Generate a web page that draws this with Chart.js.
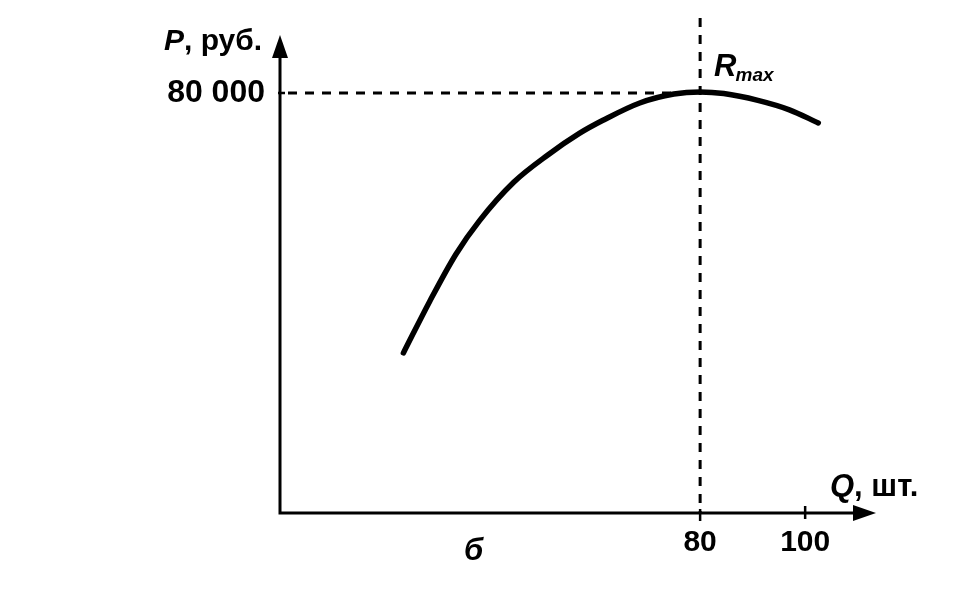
<!DOCTYPE html>
<html>
<head>
<meta charset="utf-8">
<script src="https://cdn.jsdelivr.net/npm/chart.js@4"></script>
<style>
html,body{margin:0;padding:0;background:#fff;}
#wrap{width:965px;height:605px;position:relative;}
</style>
</head>
<body>
<div id="wrap"><canvas id="c" width="965" height="605"></canvas></div>
<script>
// Data
const quantity = [23.5, 28.5, 33.5, 38, 44.5, 51, 57, 61.5, 68.5, 75, 80, 84.5, 91, 97, 102.5];
const revenue  = [30500, 40300, 49300, 55700, 63000, 68200, 72300, 74800, 78100, 79800, 80200, 79900, 78600, 76800, 74300];
const xTickValues = [80, 100];
const xTickLabels = ['80', '100'];
const yTickValues = [80000];
const yTickLabels = ['80 000'];
const qMax = 80;
const rMax = 80000;
const xAxisTitle = ['Q', ', шт.'];
const yAxisTitle = ['P', ', руб.'];
const peakLabel = ['R', 'max'];
const panelLabel = 'б';

const FONT = 'Liberation Sans, Arial, sans-serif';

const decor = {
  id: 'decor',
  afterDraw(chart) {
    const ctx = chart.ctx;
    const xs = chart.scales.x, ys = chart.scales.y;
    const ca = chart.chartArea;
    const x0 = xs.getPixelForValue(0), y0 = ys.getPixelForValue(0);
    ctx.save();
    ctx.strokeStyle = '#000';
    ctx.fillStyle = '#000';
    // dashed guides
    ctx.lineWidth = 3;
    ctx.setLineDash([9, 8]);
    const yR = ys.getPixelForValue(rMax);
    const xQ = xs.getPixelForValue(qMax);
    ctx.beginPath();
    ctx.moveTo(x0 + 8, yR); ctx.lineTo(xQ - 20, yR);
    ctx.stroke();
    ctx.beginPath();
    ctx.moveTo(xQ, ca.top - 17); ctx.lineTo(xQ, y0);
    ctx.stroke();
    ctx.setLineDash([]);
    // axes
    ctx.lineWidth = 3;
    ctx.beginPath();
    ctx.moveTo(x0, ca.top + 10); ctx.lineTo(x0, y0); ctx.lineTo(ca.right - 10, y0);
    ctx.stroke();
    // arrowheads
    ctx.beginPath();
    ctx.moveTo(x0, ca.top); ctx.lineTo(x0 - 8, ca.top + 23); ctx.lineTo(x0 + 8, ca.top + 23); ctx.closePath();
    ctx.fill();
    ctx.beginPath();
    ctx.moveTo(ca.right + 1, y0); ctx.lineTo(ca.right - 22, y0 - 8); ctx.lineTo(ca.right - 22, y0 + 8); ctx.closePath();
    ctx.fill();
    // small tick marks
    ctx.lineWidth = 2.5;
    ctx.beginPath();
    const x100 = xs.getPixelForValue(100);
    ctx.moveTo(x100, y0 - 7); ctx.lineTo(x100, y0 + 6);
    ctx.moveTo(xQ, y0 - 4); ctx.lineTo(xQ, y0 + 8);
    ctx.moveTo(x0 - 2, yR); ctx.lineTo(x0 + 5, yR);
    ctx.stroke();
    // texts
    ctx.textBaseline = 'alphabetic';
    ctx.textAlign = 'left';
    // y title
    ctx.font = 'italic bold 30px ' + FONT;
    ctx.fillText(yAxisTitle[0], 164, 50);
    let w = ctx.measureText(yAxisTitle[0]).width;
    ctx.font = 'bold 30px ' + FONT;
    ctx.fillText(yAxisTitle[1], 164 + w, 50);
    // x title
    ctx.font = 'italic bold 31px ' + FONT;
    ctx.fillText(xAxisTitle[0], 830, 496);
    w = ctx.measureText(xAxisTitle[0]).width;
    ctx.font = 'bold 31px ' + FONT;
    ctx.fillText(xAxisTitle[1], 830 + w, 496);
    // R max
    ctx.font = 'italic bold 31px ' + FONT;
    ctx.fillText(peakLabel[0], xQ + 14, 76);
    w = ctx.measureText(peakLabel[0]).width;
    ctx.font = 'italic bold 19px ' + FONT;
    ctx.fillText(peakLabel[1], xQ + 13 + w, 81);
    // panel label
    ctx.font = 'italic bold 31px ' + FONT;
    ctx.fillText(panelLabel, 464, 560);
    ctx.restore();
  }
};

new Chart(document.getElementById('c'), {
  type: 'line',
  data: {
    datasets: [{
      data: quantity.map((q, i) => ({x: q, y: revenue[i]})),
      borderColor: '#000',
      borderWidth: 5.5,
      borderCapStyle: 'round',
      borderJoinStyle: 'round',
      pointRadius: 0,
      cubicInterpolationMode: 'monotone',
      fill: false
    }]
  },
  options: {
    responsive: false,
    animation: false,
    devicePixelRatio: 1,
    layout: {padding: {top: 35, right: 90, left: 0, bottom: 0}},
    plugins: {legend: {display: false}, tooltip: {enabled: false}},
    scales: {
      x: {
        type: 'linear', min: 0, max: 113.3,
        afterFit(s) { s.height = 92; },
        afterBuildTicks(s) { s.ticks = xTickValues.map(v => ({value: v})); },
        grid: {display: false, drawTicks: false},
        border: {display: false},
        ticks: {
          color: '#000', padding: 12,
          font: {family: FONT, size: 30, weight: 'bold'},
          callback(v) { const i = xTickValues.indexOf(v); return i >= 0 ? xTickLabels[i] : ''; },
          maxRotation: 0, autoSkip: false
        }
      },
      y: {
        type: 'linear', min: 0, max: 91050,
        afterFit(s) { s.width = 280; },
        afterBuildTicks(s) { s.ticks = yTickValues.map(v => ({value: v})); },
        grid: {display: false, drawTicks: false},
        border: {display: false},
        ticks: {
          color: '#000', padding: 15,
          font: {family: FONT, size: 32, weight: 'bold'},
          callback(v) { const i = yTickValues.indexOf(v); return i >= 0 ? yTickLabels[i] : ''; },
          autoSkip: false
        }
      }
    }
  },
  plugins: [decor]
});
</script>
</body>
</html>
